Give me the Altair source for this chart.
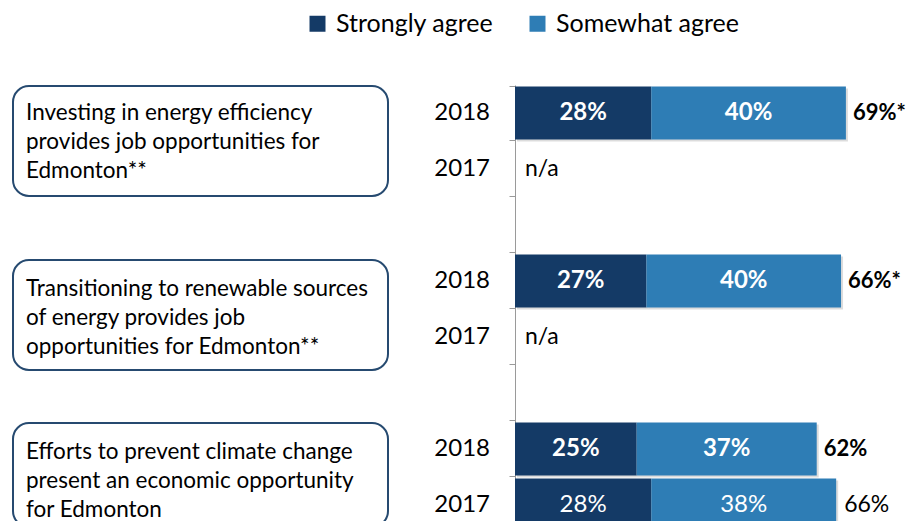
import altair as alt
import pandas as pd

# ---- data ----
statements = [
    "Investing in energy efficiency\nprovides job opportunities for\nEdmonton**",
    "Transitioning to renewable sources\nof energy provides job\nopportunities for Edmonton**",
    "Efforts to prevent climate change\npresent an economic opportunity\nfor Edmonton",
]
years = ["2018", "2017"]
strongly_2018 = [28, 27, 25]
somewhat_2018 = [40, 40, 37]
total_2018 = ["69%*", "66%*", "62%"]
strongly_2017 = [None, None, 28]
somewhat_2017 = [None, None, 38]
total_2017 = [None, None, "66%"]
series = ["Strongly agree", "Somewhat agree"]
colors = ["#143A66", "#2E7DB5"]

# row keys (band scale domain): 2018, 2017, spacer per statement
rows = []
for g in range(3):
    rows += [f"g{g}-2018", f"g{g}-2017", f"g{g}-gap"]
rows = rows[:8]

seg_recs, tot_recs, year_recs, na_recs = [], [], [], []
for g in range(3):
    for yr, s_list, w_list, t_list in [
        ("2018", strongly_2018, somewhat_2018, total_2018),
        ("2017", strongly_2017, somewhat_2017, total_2017),
    ]:
        row = f"g{g}-{yr}"
        year_recs.append({"row": row, "year": yr})
        s, w, t = s_list[g], w_list[g], t_list[g]
        if s is None:
            na_recs.append({"row": row, "label": "n/a"})
            continue
        bold = yr == "2018"
        start = 0
        for name, v in zip(series, [s, w]):
            seg_recs.append({"row": row, "series": name, "start": start,
                             "end": start + v, "mid": start + v / 2,
                             "label": f"{v}%", "bold": bold})
            start += v
        tot_recs.append({"row": row, "end": start, "label": t, "bold": bold})

seg = pd.DataFrame(seg_recs)
tot = pd.DataFrame(tot_recs)
yrs = pd.DataFrame(year_recs)
na = pd.DataFrame(na_recs)

FONT = "Lato"
W, H = 391, 436
yscale = alt.Scale(domain=rows, paddingInner=0.05, paddingOuter=0.025, range=[0, 448])
xscale = alt.Scale(domain=[0, 80.35], nice=False, zero=True)
cscale = alt.Scale(domain=series, range=colors)

Y = alt.Y("row:N", scale=yscale, sort=rows,
          axis=alt.Axis(labels=False, title=None, ticks=True, tickBand="extent",
                        tickSize=6, tickColor="#9a9a9a", domainColor="#9a9a9a",
                        domainWidth=1, tickWidth=1, grid=False))
Yn = alt.Y("row:N", scale=yscale, sort=rows)

shadow = alt.Chart(seg).mark_bar(color="#9a9a9a", opacity=0.35, xOffset=2, x2Offset=2,
                                 yOffset=2, y2Offset=2).encode(
    x=alt.X("start:Q", scale=xscale, axis=None), x2="end:Q", y=Y)

bars = alt.Chart(seg).mark_bar().encode(
    x=alt.X("start:Q", scale=xscale, axis=None), x2="end:Q", y=Yn,
    color=alt.Color("series:N", scale=cscale, sort=series,
                    legend=alt.Legend(orient="none", direction="horizontal",
                                      legendX=-210, legendY=-74, title=None,
                                      symbolType="square", symbolSize=256,
                                      symbolStrokeWidth=0, symbolOpacity=1,
                                      labelFontSize=25, labelFont=FONT,
                                      labelColor="#000000", labelOffset=6,
                                      labelLimit=400,
                                      columnPadding=31, padding=0)))

seg_bold = alt.Chart(seg).transform_filter("datum.bold").mark_text(
    color="white", fontWeight="bold", fontSize=24, font=FONT, baseline="middle").encode(
    x=alt.X("mid:Q", scale=xscale), y=Yn, text="label:N")
seg_reg = alt.Chart(seg).transform_filter("!datum.bold").mark_text(
    color="white", fontSize=24, font=FONT, baseline="middle").encode(
    x=alt.X("mid:Q", scale=xscale), y=Yn, text="label:N")

tot_bold = alt.Chart(tot).transform_filter("datum.bold").mark_text(
    color="black", fontWeight="bold", fontSize=22, font=FONT, align="left",
    baseline="middle", dx=7).encode(
    x=alt.X("end:Q", scale=xscale), y=Yn, text="label:N")
tot_reg = alt.Chart(tot).transform_filter("!datum.bold").mark_text(
    color="black", fontSize=23, font=FONT, align="left",
    baseline="middle", dx=8).encode(
    x=alt.X("end:Q", scale=xscale), y=Yn, text="label:N")

na_text = alt.Chart(na).mark_text(color="black", fontSize=23, font=FONT,
                                  align="left", baseline="middle", dx=10).encode(
    x=alt.value(0), y=Yn, text="label:N")

year_text = alt.Chart(yrs).mark_text(color="black", fontSize=24, font=FONT,
                                     align="right", baseline="middle").encode(
    x=alt.value(-25), y=Yn, text="year:N")

# statement boxes (decorative frames) and their text
box_top = [1, 175, 338]
box_bot = [111, 285, 442]
text_first = [28, 204, 367]
box_layers = []
for g in range(3):
    bdf = pd.DataFrame({"statement": [statements[g]]})
    box_layers.append(alt.Chart(bdf).mark_rect(
        fill="white", stroke="#264A70", strokeWidth=2, cornerRadius=16).encode(
        x=alt.value(-502), x2=alt.value(-127),
        y=alt.value(box_top[g]), y2=alt.value(box_bot[g])))
    box_layers.append(alt.Chart(bdf).mark_text(
        align="left", baseline="middle", fontSize=22.5, font=FONT, lineHeight=29,
        color="black", lineBreak="\n").encode(
        x=alt.value(-489), y=alt.value(text_first[g]), text="statement:N"))

chart = alt.layer(
    *box_layers, shadow, bars, seg_bold, seg_reg, tot_bold, tot_reg, na_text, year_text
).properties(
    width=W, height=H,
    padding={"left": 507, "top": 77, "right": 0, "bottom": 0},
    autosize=alt.AutoSizeParams(type="none"),
).configure_view(stroke=None)

chart.save("out.html", embed_options={"renderer": "svg", "actions": False})
